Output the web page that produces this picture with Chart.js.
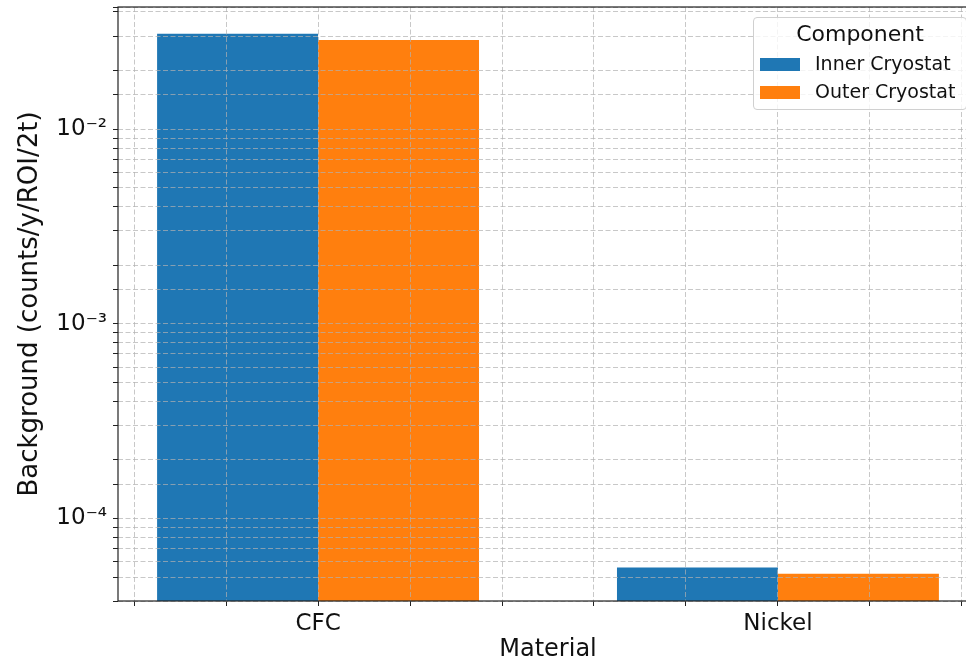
<!DOCTYPE html>
<html>
<head>
<meta charset="utf-8">
<script src="https://cdn.jsdelivr.net/npm/chart.js@4.4.1/dist/chart.umd.min.js"></script>
<style>
    html, body { margin: 0; padding: 0; background: #fff; overflow: hidden; width: 966px; height: 662px; }
    #wrap { position: relative; width: 990px; height: 662px; }
    #legend {
        position: absolute; left: 753px; top: 17px; width: 214px; height: 93px;
        box-sizing: border-box; background: rgba(255, 255, 255, 0.8);
        border: 1px solid #d0d0d0; border-radius: 4px;
        font-family: 'DejaVu Sans', sans-serif; color: #111;
    }
    #legend .title { position: absolute; left: 0; right: 0; top: 3px; text-align: center; font-size: 22px; }
    #legend .row { position: absolute; left: 6px; height: 20px; font-size: 19px; line-height: 20px; white-space: nowrap; }
    #legend .patch { display: inline-block; width: 40px; height: 13px; vertical-align: -1px; margin-right: 15px; }
</style>
</head>
<body>
<div id="wrap">
    <canvas id="chart" width="990" height="662"></canvas>
    <div id="legend"><div class="title">Component</div></div>
</div>
<script>
// データ
const materials = ['CFC', 'Nickel'];
const innerCryostat = [0.0309, 5.6e-5];
const outerCryostat = [0.0287, 5.2e-5];
const seriesNames = ['Inner Cryostat', 'Outer Cryostat'];
const seriesColors = ['#1f77b4', '#ff7f0e'];

// 軸の範囲
const yMin = 3.77e-5, yMax = 0.0424;
const xMin = -0.435, xMax = 1.435, xStep = 0.2, barWidth = 0.35;

const gridColor = 'rgba(176, 176, 176, 0.7)';
const textColor = '#111';
Chart.defaults.font.family = "'DejaVu Sans', sans-serif";

const SUP = { '-': '\u207B', '0': '\u2070', '1': '\u00B9', '2': '\u00B2', '3': '\u00B3', '4': '\u2074',
              '5': '\u2075', '6': '\u2076', '7': '\u2077', '8': '\u2078', '9': '\u2079' };
const sup = n => String(n).split('').map(c => SUP[c]).join('');

// 凡例 (HTML)
const legendEl = document.getElementById('legend');
seriesNames.forEach((name, i) => {
    const row = document.createElement('div');
    row.className = 'row';
    row.style.top = (35 + i * 28) + 'px';
    row.innerHTML = `<span class="patch" style="background:${seriesColors[i]}"></span>${name}`;
    legendEl.appendChild(row);
});

// 枠線
const framePlugin = {
    id: 'frame',
    afterDraw(chart) {
        const { ctx, chartArea: a } = chart;
        ctx.save();
        ctx.strokeStyle = '#222';
        ctx.lineWidth = 1.2;
        ctx.strokeRect(a.left, a.top, a.right - a.left, a.bottom - a.top);
        ctx.restore();
    }
};

// ラベルのはみ出し分の余白を消す
const noPad = s => { s.paddingTop = 0; s.paddingBottom = 0; s.paddingLeft = 0; s.paddingRight = 0; };

const toPoints = vals => vals.map((y, i) => ({ x: i, y }));

// グリッドは棒の上に描く (z: 1)
const gridOpts = { z: 1, offset: false, color: gridColor, lineWidth: 1, tickLength: 5, tickColor: '#222', tickBorderDash: [] };

new Chart(document.getElementById('chart'), {
    type: 'bar',
    data: {
        datasets: [
            { label: seriesNames[0], data: toPoints(innerCryostat), backgroundColor: seriesColors[0] },
            { label: seriesNames[1], data: toPoints(outerCryostat), backgroundColor: seriesColors[1] }
        ]
    },
    options: {
        responsive: false,
        animation: false,
        // ruler は目盛間隔 (xStep) で決まるので、棒幅 = barWidth になるよう換算
        categoryPercentage: (2 * barWidth) / xStep,
        barPercentage: 1,
        layout: { padding: { top: 7, right: 12, left: 0, bottom: 0 } },
        plugins: { legend: { display: false }, tooltip: { enabled: false } },
        scales: {
            x: {
                type: 'linear', min: xMin, max: xMax, offset: false,
                ticks: {
                    stepSize: xStep, includeBounds: false, autoSkip: false, maxRotation: 0,
                    padding: 4, color: textColor, font: { size: 23 },
                    callback: v => {
                        const i = Math.round(v);
                        return Math.abs(v - i) < 1e-6 && materials[i] ? materials[i] : '';
                    }
                },
                grid: gridOpts,
                border: { display: false, dash: [5, 2.5] },
                title: { display: true, text: 'Material', color: textColor, font: { size: 24, lineHeight: 1 }, padding: 0 },
                afterFit: s => { s.height = 61; noPad(s); }
            },
            y: {
                type: 'logarithmic', min: yMin, max: yMax,
                ticks: {
                    autoSkip: false, padding: 6, color: textColor, font: { size: 23 },
                    callback: v => {
                        const e = Math.log10(v);
                        return Math.abs(e - Math.round(e)) < 1e-9 ? '10' + sup(Math.round(e)) : '';
                    }
                },
                grid: gridOpts,
                border: { display: false, dash: [5, 2.5] },
                title: { display: true, text: 'Background (counts/y/ROI/2t)', color: textColor, font: { size: 26 }, padding: { top: 15, bottom: 0 } },
                afterFit: s => { s.width = 118; noPad(s); }
            }
        }
    },
    plugins: [framePlugin]
});
</script>
</body>
</html>
